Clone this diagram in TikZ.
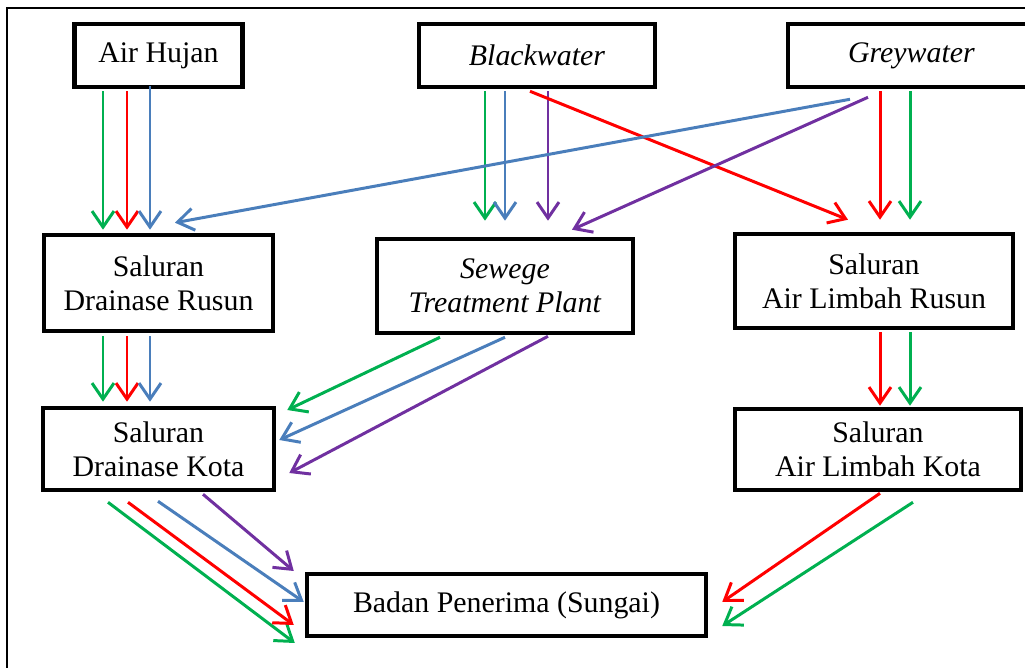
\documentclass[tikz,border=0pt]{standalone}
\usepackage{fontspec}
\setmainfont{Liberation Serif}
\usetikzlibrary{calc, positioning, arrows.meta}
\definecolor{hijau}{HTML}{00B050}
\definecolor{merah}{HTML}{FF0000}
\definecolor{biru}{HTML}{4A7EBB}
\definecolor{ungu}{HTML}{7030A0}
\begin{document}
\begin{tikzpicture}[x=0.02cm, y=-0.02cm, >={Straight Barb[length=0.32cm, width=0.44cm]},
		kotak/.style={draw, line width=2.6pt, inner sep=0pt, align=center, font=\fontsize{17}{19.4}\selectfont},
		alir/.style={->, line width=1.7pt}]
			\useasboundingbox (0,0) rectangle (1025,668);
			\draw[line width=1.1pt] (7,668) -- (7,8) -- (1030,8);
			\path (158.5,55.5) node[kotak, minimum width=3.36cm, minimum height=1.26cm] (air hujan) {Air Hujan};
			\path (537,55.5) node[kotak, minimum width=4.72cm, minimum height=1.26cm] (blackwater) {\textit{Blackwater}};
			\path (911.5,55.5) node[kotak, minimum width=4.94cm, minimum height=1.26cm] (greywater) {\textit{Greywater}};
			\path (158.5,283) node[kotak, minimum width=4.58cm, minimum height=1.92cm] (drainase rusun) {Saluran\\Drainase Rusun};
			\path (505,286) node[kotak, minimum width=5.12cm, minimum height=1.88cm] (stp) {\textit{Sewege}\\\textit{Treatment Plant}};
			\path (874,281) node[kotak, minimum width=5.56cm, minimum height=1.88cm] (limbah rusun) {Saluran\\Air Limbah Rusun};
			\path (158.5,449) node[kotak, minimum width=4.62cm, minimum height=1.64cm] (drainase kota) {Saluran\\Drainase Kota};
			\path (878,449.5) node[kotak, minimum width=5.72cm, minimum height=1.62cm] (limbah kota) {Saluran\\Air Limbah Kota};
			\path (506.5,605) node[kotak, minimum width=7.98cm, minimum height=1.24cm] (badan) {Badan Penerima (Sungai)};
			\draw[alir, hijau] ($(air hujan.south)+(-55.5,2)$) -- ($(drainase rusun.north)+(-55.5,-3)$);
			\draw[alir, merah] ($(air hujan.south)+(-31.5,2)$) -- ($(drainase rusun.north)+(-31.5,-3)$);
			\draw[alir, biru] ($(air hujan.south)+(-8.5,-3)$) -- ($(drainase rusun.north)+(-8.5,-3)$);
			\draw[alir, hijau] ($(blackwater.south)+(-52,2)$) -- ($(stp.north)+(-20,-16)$);
			\draw[alir, biru] ($(blackwater.south)+(-32,2)$) -- ($(stp.north)+(0,-16)$);
			\draw[alir, ungu] ($(blackwater.south)+(11,2)$) -- ($(stp.north)+(43,-16)$);
			\draw[alir, merah] ($(blackwater.south)+(-7,2)$) -- ($(limbah rusun.north)+(-26,-12)$);
			\draw[alir, biru] ($(greywater.south)+(-61.5,10)$) -- ($(drainase rusun.north)+(16.5,-10)$);
			\draw[alir, ungu] ($(greywater.south)+(-43.5,8)$) -- ($(stp.north)+(67,-7)$);
			\draw[alir, merah] ($(greywater.south)+(-31.5,2)$) -- ($(limbah rusun.north)+(6,-12)$);
			\draw[alir, hijau] ($(greywater.south)+(-1.5,2)$) -- ($(limbah rusun.north)+(36,-12)$);
			\draw[alir, hijau] ($(drainase rusun.south)+(-55.5,3)$) -- ($(drainase kota.north)+(-55.5,-4)$);
			\draw[alir, merah] ($(drainase rusun.south)+(-31.5,3)$) -- ($(drainase kota.north)+(-31.5,-4)$);
			\draw[alir, biru] ($(drainase rusun.south)+(-8.5,3)$) -- ($(drainase kota.north)+(-8.5,-4)$);
			\draw[alir, merah] ($(limbah rusun.south)+(6,2)$) -- ($(limbah kota.north)+(2,-1)$);
			\draw[alir, hijau] ($(limbah rusun.south)+(36,2)$) -- ($(limbah kota.north)+(32,-1)$);
			\draw[alir, hijau] ($(stp.south)+(-65,2)$) -- ($(drainase kota.east)+(11,-39)$);
			\draw[alir, biru] ($(stp.south)+(0,2)$) -- ($(drainase kota.east)+(3,-9)$);
			\draw[alir, ungu] ($(stp.south)+(43,1)$) -- ($(drainase kota.east)+(13,24)$);
			\draw[alir, hijau] ($(drainase kota.south)+(-50.5,10)$) -- ($(badan.west)+(-10,38)$);
			\draw[alir, merah] ($(drainase kota.south)+(-30.5,10)$) -- ($(badan.west)+(-11,20)$);
			\draw[alir, biru] ($(drainase kota.south)+(-0.5,9)$) -- ($(badan.west)+(-1,-3)$);
			\draw[alir, ungu] ($(drainase kota.south)+(44.5,2)$) -- ($(badan.west)+(-11,-34)$);
			\draw[alir, merah] ($(limbah kota.south)+(2,1)$) -- ($(badan.east)+(14,-3)$);
			\draw[alir, hijau] ($(limbah kota.south)+(35,10)$) -- ($(badan.east)+(14,21)$);
		\end{tikzpicture}
\end{document}
